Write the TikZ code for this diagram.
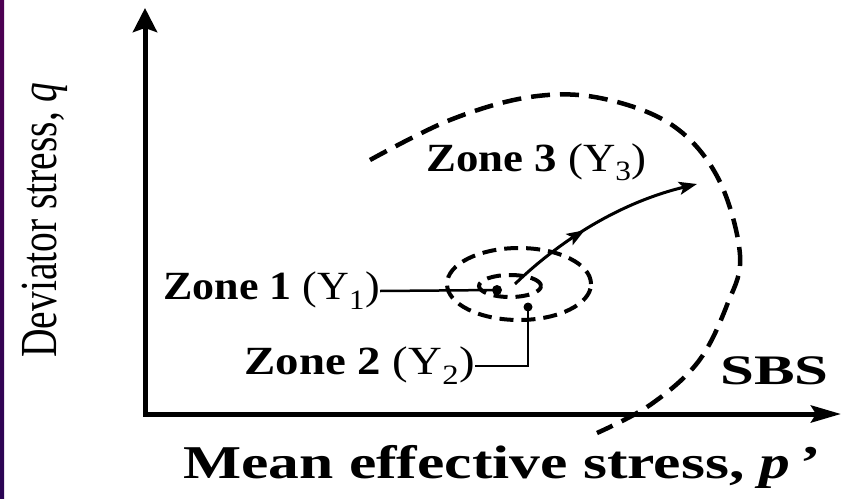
\documentclass[tikz,border=0pt]{standalone}
\usepackage{fontspec}
\setmainfont{Liberation Serif}
\usetikzlibrary{arrows.meta,decorations.markings}
\begin{document}
\begin{tikzpicture}[x=1pt,y=-1pt,
  axis/.style={line width=5pt, line join=miter},
  sbs/.style={line width=4.5pt, dash pattern=on 19pt off 10pt},
  yieldc/.style={line width=4pt, dash pattern=on 14pt off 8pt},
  dotnode/.style={circle, fill=black, inner sep=0pt, minimum size=10pt},
  zonelab/.style={inner sep=0pt, font=\fontsize{40pt}{40pt}\selectfont},
  lead/.style={line width=2.5pt},
  tipA/.style={-{Stealth[length=18pt,width=13pt,inset=4pt]}},
]
\useasboundingbox (0,0) rectangle (842,498);
\fill[white] (0,0) rectangle (842,498);
\shade[top color={rgb,255:red,78;green,0;blue,82}, bottom color={rgb,255:red,42;green,4;blue,84}] (0,0) rectangle (4,498);

% axes
\coordinate (O) at (145,414);
\coordinate (ytip) at (145,8);
\coordinate (xtip) at (841,414);
\draw[axis, arrows={Stealth[length=24pt,width=24pt,inset=4pt]-Stealth[length=30pt,width=17pt,inset=5pt]}] (ytip) -- (O) -- (xtip);

% axis labels
\node[rotate=90, anchor=base west, inner sep=0pt, font=\fontsize{52pt}{52pt}\selectfont] (yl) at (56,358) {\scalebox{0.76}[1]{Deviator stress, \textit{q}}};
\node[anchor=base west, inner sep=0pt, font=\fontsize{47pt}{47pt}\selectfont\bfseries] (xl) at (183,478) {\scalebox{1.31}[1]{Mean effective stress, \textit{p}\,’}};

% state boundary surface
\draw[sbs] plot[smooth, tension=0.6] coordinates {(370,160) (450,120) (530,97) (600,98) (672,125) (718,178) (740,255) (727,305) (698,362) (650,405) (597,433)};
\node[anchor=base west, inner sep=0pt, font=\fontsize{42pt}{42pt}\selectfont\bfseries] (sbsl) at (720,384) {\scalebox{1.45}[1]{SBS}};

% yield loci
\draw[yieldc] (510,286) ellipse [x radius=31pt, y radius=11pt];
\draw[yieldc] (519,284) ellipse [x radius=72pt, y radius=36pt];

% stress path
\coordinate (sp0) at (515,284);
\coordinate (sp1) at (697,184);
\draw[line width=3pt, tipA, postaction={decorate},
  decoration={markings, mark=at position 0.42 with {\arrow{Stealth[length=18pt,width=13pt,inset=4pt]}}}]
  (sp0) .. controls (550,250) and (610,205) .. (sp1);

% zone labels
\node[zonelab, anchor=base west] (z3) at (426,171) {\scalebox{1.12}[1]{\textbf{Zone 3 }(Y\textsubscript{3})}};
\node[zonelab, anchor=east] (z1) at (380,291) {\scalebox{1.1}[1]{\textbf{Zone 1 }(Y\textsubscript{1})}};
\node[dotnode] (d1) at (497,290) {};
\draw[lead] (z1.east) -- (d1.center);
\node[zonelab, anchor=east] (z2) at (475,366) {\scalebox{1.17}[1]{\textbf{Zone 2 }(Y\textsubscript{2})}};
\node[dotnode, minimum size=9pt] (d2) at (528,307) {};
\draw[lead] (z2.east) -| (d2.center);
\end{tikzpicture}
\end{document}
